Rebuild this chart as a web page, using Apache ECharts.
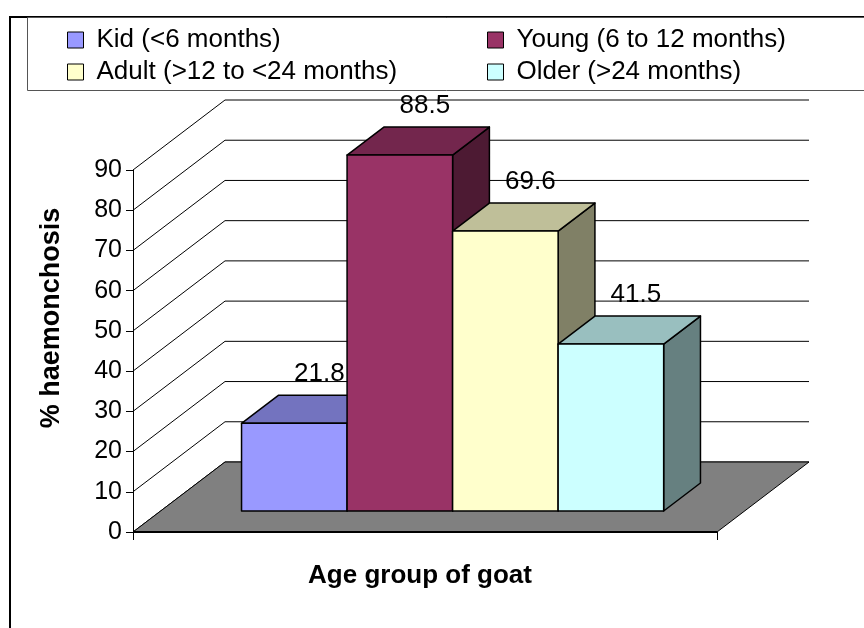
<!DOCTYPE html>
<html>
<head>
<meta charset="utf-8">
<script src="https://cdn.jsdelivr.net/npm/echarts@6/dist/echarts.min.js"></script>
<style>
  html, body { margin: 0; padding: 0; background: #fff; }
  #chart { width: 864px; height: 628px; }
</style>
</head>
<body>
<div id="chart"></div>
<script>
// Haemonchosis prevalence by goat age group
const categories = [''];
const groupNames = ['Kid (<6 months)', 'Young (6 to 12 months)', 'Adult (>12 to <24 months)', 'Older (>24 months)'];
const prevalence = [21.8, 88.5, 69.6, 41.5];
const yTicks = [0, 10, 20, 30, 40, 50, 60, 70, 80, 90];
const groupColors = ['#9999FF', '#993366', '#FFFFCC', '#CCFFFF'];

const FONT = '"Liberation Sans", Arial, Helvetica, sans-serif';
// oblique depth of the 3-D box (walls / floor), in pixels
const DEPTH_X = 92, DEPTH_Y = 70;
// columns sit between these fractions of the depth
const BAR_FRONT = 0.3, BAR_BACK = 0.7;
// width of one column as a share of the category band
const BAR_FRAC = 0.1807;
// data label placement relative to the column's front-top centre
const LABEL_DX = 25, LABEL_DY = 49;

function shade(hex, k) {
  const n = parseInt(hex.slice(1), 16);
  const r = Math.round(((n >> 16) & 255) * k);
  const g = Math.round(((n >> 8) & 255) * k);
  const b = Math.round((n & 255) * k);
  return 'rgb(' + r + ',' + g + ',' + b + ')';
}

// side wall diagonals and back wall gridlines, one per tick value
function wallItem(params, api) {
  const p = api.coord([0, api.value(1)]);
  const w = api.size([1, 0])[0];
  const x0 = p[0] - w / 2, y = p[1];
  const st = { stroke: '#000', lineWidth: 1, fill: null };
  return {
    type: 'group',
    children: [
      { type: 'line', shape: { x1: x0, y1: y, x2: x0 + DEPTH_X, y2: y - DEPTH_Y }, style: st },
      { type: 'line', shape: { x1: x0 + DEPTH_X, y1: y - DEPTH_Y, x2: x0 + DEPTH_X + w, y2: y - DEPTH_Y }, style: st }
    ]
  };
}

// grey floor of the 3-D box
function floorItem(params, api) {
  const p = api.coord([0, 0]);
  const w = api.size([1, 0])[0];
  const x0 = p[0] - w / 2, x1 = p[0] + w / 2, y = p[1];
  return {
    type: 'group',
    children: [
      {
        type: 'polygon',
        shape: { points: [[x0, y], [x1, y], [x1 + DEPTH_X, y - DEPTH_Y], [x0 + DEPTH_X, y - DEPTH_Y]] },
        style: { fill: '#808080', stroke: '#000', lineWidth: 1 }
      },
      { type: 'line', shape: { x1: x0, y1: y, x2: x1, y2: y }, style: { stroke: '#000', lineWidth: 2 } }
    ]
  };
}

// one oblique cuboid per age group
function columnItem(slot, color) {
  return function (params, api) {
    const v = api.value(1);
    const top = api.coord([0, v]);
    const base = api.coord([0, 0]);
    const w = api.size([1, 0])[0];
    const bw = w * BAR_FRAC;
    const fx = BAR_FRONT * DEPTH_X, fy = BAR_FRONT * DEPTH_Y;
    const dx = (BAR_BACK - BAR_FRONT) * DEPTH_X, dy = (BAR_BACK - BAR_FRONT) * DEPTH_Y;
    const xl = top[0] - 2 * bw + slot * bw + fx;
    const xr = xl + bw;
    const yt = top[1] - fy;
    const yb = base[1] - fy;
    const edge = { stroke: '#000', lineWidth: 1.5, lineJoin: 'round' };
    return {
      type: 'group',
      children: [
        {
          type: 'polygon',
          shape: { points: [[xr, yt], [xr, yb], [xr + dx, yb - dy], [xr + dx, yt - dy]] },
          style: Object.assign({ fill: shade(color, 0.5) }, edge)
        },
        {
          type: 'polygon',
          shape: { points: [[xl, yt], [xr, yt], [xr + dx, yt - dy], [xl + dx, yt - dy]] },
          style: Object.assign({ fill: shade(color, 0.75) }, edge)
        },
        {
          type: 'rect',
          shape: { x: xl, y: yt, width: bw, height: yb - yt },
          style: Object.assign({ fill: color }, edge)
        },
        {
          type: 'text',
          z2: 100,
          style: {
            text: String(v),
            x: (xl + xr) / 2 + LABEL_DX,
            y: yt - LABEL_DY,
            align: 'center',
            verticalAlign: 'middle',
            font: '26px ' + FONT,
            fill: '#000'
          }
        }
      ]
    };
  };
}

const chart = echarts.init(document.getElementById('chart'), null, { renderer: 'canvas' });

const series = [
  {
    type: 'custom',
    name: 'walls',
    renderItem: wallItem,
    data: yTicks.map(t => [0, t]),
    silent: true,
    clip: false
  },
  {
    type: 'custom',
    name: 'floor',
    renderItem: floorItem,
    data: [[0, 0]],
    silent: true,
    clip: false
  }
];
groupNames.forEach((name, i) => {
  series.push({
    type: 'custom',
    name: name,
    renderItem: columnItem(i, groupColors[i]),
    itemStyle: { color: groupColors[i] },
    data: [[0, prevalence[i]]],
    silent: true,
    clip: false
  });
});

const legendText = {
  fontFamily: FONT,
  fontSize: 26,
  lineHeight: 26,
  color: '#000',
  padding: [0, 0, 0, 8]
};

function legendColumn(names, left) {
  return {
    data: names,
    orient: 'vertical',
    left: left,
    top: 27,
    padding: 0,
    itemWidth: 16,
    itemHeight: 16,
    itemGap: 6,
    icon: 'rect',
    selectedMode: false,
    itemStyle: { borderColor: '#000', borderWidth: 1 },
    textStyle: legendText
  };
}

chart.setOption({
  animation: false,
  backgroundColor: '#fff',
  grid: { left: 133, right: 147, top: 170, bottom: 96, containLabel: false },
  xAxis: {
    type: 'category',
    data: categories,
    boundaryGap: true,
    axisLine: { show: true, lineStyle: { color: '#000', width: 1 } },
    axisTick: { show: true, length: 8, lineStyle: { color: '#000' } },
    axisLabel: { show: false },
    splitLine: { show: false }
  },
  yAxis: {
    type: 'value',
    min: 0,
    max: 90,
    interval: 10,
    axisLine: { show: true, lineStyle: { color: '#000', width: 1 } },
    axisTick: { show: true, length: 7, lineStyle: { color: '#000' } },
    axisLabel: { fontFamily: FONT, fontSize: 25, color: '#000', margin: 11 },
    splitLine: { show: false }
  },
  legend: [
    legendColumn([groupNames[0], groupNames[2]], 67),
    legendColumn([groupNames[1], groupNames[3]], 487)
  ],
  graphic: [
    {
      type: 'rect',
      z: -10,
      shape: { x: 10, y: 17, width: 900, height: 700 },
      style: { fill: null, stroke: '#000', lineWidth: 2 }
    },
    {
      type: 'rect',
      z: -10,
      shape: { x: 27.5, y: 17.5, width: 900, height: 73 },
      style: { fill: null, stroke: '#555', lineWidth: 1 }
    },
    {
      type: 'text',
      x: 52,
      y: 318,
      rotation: Math.PI / 2,
      style: {
        text: '% haemonchosis',
        font: 'bold 27px ' + FONT,
        fill: '#000',
        align: 'center',
        verticalAlign: 'middle'
      }
    },
    {
      type: 'text',
      x: 420,
      y: 576,
      style: {
        text: 'Age group of goat',
        font: 'bold 26px ' + FONT,
        fill: '#000',
        align: 'center',
        verticalAlign: 'middle'
      }
    }
  ],
  series: series
});
</script>
</body>
</html>
